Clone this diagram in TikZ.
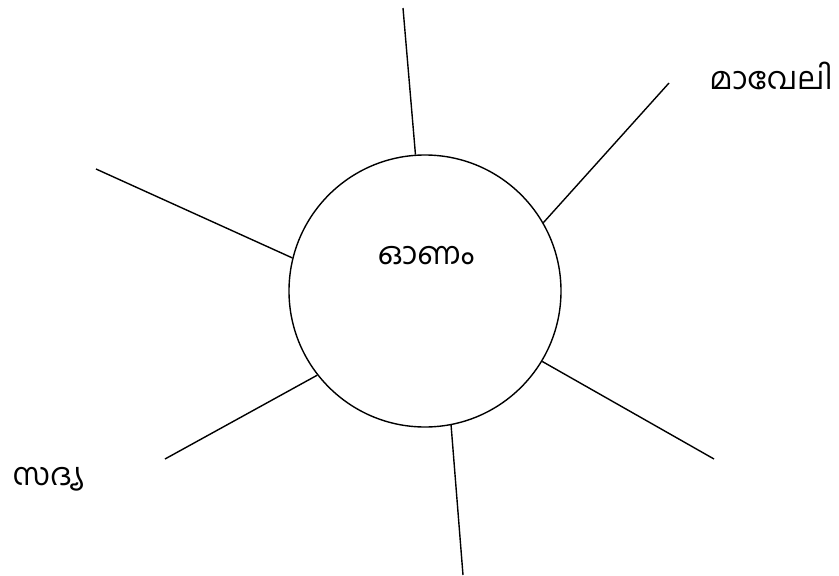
\documentclass[tikz,border=0pt]{standalone}
\usepackage{fontspec}
\newfontfamily\malfont[Script=Malayalam]{Hind Kochi}
\usepackage{tikz}

\begin{document}
\begin{tikzpicture}[x=1pt, y=-1pt,
    hub/.style={draw, circle, line width=1.4pt, minimum size=272pt, inner sep=0pt},
    word/.style={font=\malfont\fontsize{31}{36}\selectfont, inner sep=0pt},
    spoke/.style={line width=1.4pt}
]
  \useasboundingbox (0,0) rectangle (839,576);

  \node[hub] (onam) at (425,291) {};
  \node[word] (title) at (426,256) {ഓണം};

  % outer ends of the spokes
  \coordinate (top) at (403,8);
  \coordinate (topright) at (669,83);
  \coordinate (left) at (96,169);
  \coordinate (botright) at (714,459);
  \coordinate (bottom) at (463,575);
  \coordinate (botleft) at (165,459);

  \draw[spoke] (onam.94) -- (top);
  \draw[spoke] (onam.30.5) -- (topright);
  \draw[spoke] (onam.166) -- (left);
  \draw[spoke] (onam.329.5) -- (botright);
  \draw[spoke] (onam.281.7) -- (bottom);
  \draw[spoke] (onam.218) -- (botleft);

  % labels
  \node[word] (maveli) at (771,76) {മാവേലി};
  \node[word] (sadya) at (48,479) {സദ്യ};
\end{tikzpicture}
\end{document}
